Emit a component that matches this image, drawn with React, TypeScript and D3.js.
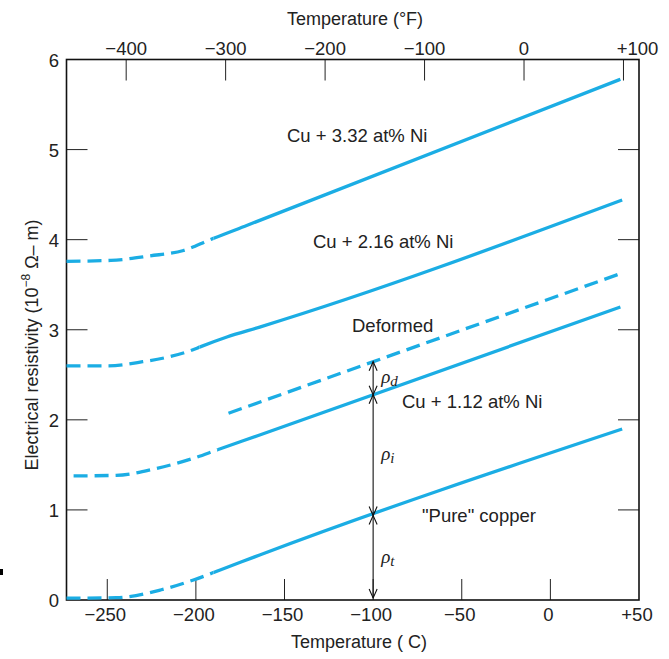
import React from "react";
import * as d3 from "d3";

// ---- data (temperature in °C, resistivity in 1e-8 Ω·m) ----
const cu332T = [-273, -248, -226, -207, -192, -171, 39.5];
const cu332R = [3.76, 3.77, 3.82, 3.88, 4.0, 4.16, 5.78];
const cu332Solid = -190;

const cu216T = [-273, -250, -230, -215, -202, -197.6, -182.5, -164, 40.5];
const cu216R = [2.6, 2.6, 2.645, 2.7, 2.775, 2.81, 2.92, 3.03, 4.44];
const cu216Solid = -198;

const deformedT = [-181.6, 40.5];
const deformedR = [2.073, 3.63];
const deformedSolid = 999; // entirely dashed

const cu112T = [-269, -245, -222, -201.4, -188.2, -164, 39.5];
const cu112R = [1.377, 1.384, 1.462, 1.573, 1.665, 1.832, 3.253];
const cu112Solid = -188;

const pureT = [-273, -245, -220, -201.4, -186.3, -164, 40.5];
const pureR = [0.02, 0.026, 0.111, 0.222, 0.333, 0.5, 1.898];
const pureSolid = -190;

const seriesNames = ["Cu + 3.32 at% Ni", "Cu + 2.16 at% Ni", "Deformed", "Cu + 1.12 at% Ni", "\"Pure\" copper"];

const bottomTicks = [-250, -200, -150, -100, -50, 0, 50];
const bottomTickLabels = ["\u2212250", "\u2212200", "\u2212150", "\u2212100", "\u221250", "0", "+50"];
const topTicks = [-400, -300, -200, -100, 0, 100];
const topTickLabels = ["\u2212400", "\u2212300", "\u2212200", "\u2212100", "0", "+100"];
const leftTicks = [0, 1, 2, 3, 4, 5, 6];

const arrowTemp = -100;

const W = 669;
const H = 659;
const L = 66.5, R = 639, T = 59.5, B = 600;
const COLOR = "#1badE4";
const FONT = "'Liberation Sans', Arial, sans-serif";

const x = d3.scaleLinear().domain([-273, 50]).range([L, R]);
const xF = d3.scaleLinear().domain([-460, 115.6]).range([L, R]);
const y = d3.scaleLinear().domain([0, 6]).range([B, T]);

type S = { name: string; t: number[]; r: number[]; solidFrom: number };
const series: S[] = [
  { name: seriesNames[0], t: cu332T, r: cu332R, solidFrom: cu332Solid },
  { name: seriesNames[1], t: cu216T, r: cu216R, solidFrom: cu216Solid },
  { name: seriesNames[2], t: deformedT, r: deformedR, solidFrom: deformedSolid },
  { name: seriesNames[3], t: cu112T, r: cu112R, solidFrom: cu112Solid },
  { name: seriesNames[4], t: pureT, r: pureR, solidFrom: pureSolid },
];

function interp(s: S, t: number) {
  for (let i = 0; i < s.t.length - 1; i++) {
    if (t >= s.t[i] && t <= s.t[i + 1]) {
      const f = (t - s.t[i]) / (s.t[i + 1] - s.t[i]);
      return s.r[i] + f * (s.r[i + 1] - s.r[i]);
    }
  }
  return 0;
}

const line = d3
  .line<[number, number]>()
  .x((d) => x(d[0]))
  .y((d) => y(d[1]))
  .curve(d3.curveMonotoneX);

export default function App() {
  const levels = [0, interp(series[4], arrowTemp), interp(series[3], arrowTemp), interp(series[2], arrowTemp)];
  const ax = x(arrowTemp);
  const segs = [0, 1, 2].map((i) => ({ a: levels[i], b: levels[i + 1] }));
  const subs = ["t", "i", "d"];
  const tick = 21;
  return (
    <svg width={W} height={H} style={{ position: "absolute", left: 0, top: 0, background: "#fff" }} fontFamily={FONT}>
      <defs>
        {series.map((s, i) => (
          <React.Fragment key={i}>
            <clipPath id={`dash${i}`}>
              <rect x={0} y={0} width={x(s.solidFrom)} height={H} />
            </clipPath>
            <clipPath id={`solid${i}`}>
              <rect x={x(s.solidFrom)} y={0} width={W} height={H} />
            </clipPath>
          </React.Fragment>
        ))}
      </defs>
      <rect x={0} y={569} width={3} height={6} fill="#000" />
      {/* ticks */}
      <g stroke="#222" strokeWidth={1}>
        {bottomTicks.filter((t) => x(t) < R - 1).map((t) => (
          <line key={"b" + t} x1={x(t)} x2={x(t)} y1={B} y2={B - tick} />
        ))}
        {topTicks.map((t) => (
          <line key={"t" + t} x1={xF(t)} x2={xF(t)} y1={T} y2={T + tick} />
        ))}
        {leftTicks.filter((v) => v > 0 && v < 6).map((v) => (
          <React.Fragment key={"l" + v}>
            <line x1={L} x2={L + tick} y1={y(v)} y2={y(v)} />
            <line x1={R} x2={R - tick} y1={y(v)} y2={y(v)} />
          </React.Fragment>
        ))}
      </g>
      <rect x={L} y={T} width={R - L} height={B - T} fill="none" stroke="#111" strokeWidth={1.6} />
      {/* tick labels */}
      <g fontSize={18.5} fill="#222">
        {bottomTicks.map((t, i) => (
          <text key={"bl" + t} x={x(t) - 2} y={621} textAnchor="middle">{bottomTickLabels[i]}</text>
        ))}
        {topTicks.map((t, i) => (
          <text key={"tl" + t} x={xF(t) + (t === 100 ? 14 : 0)} y={55} textAnchor="middle">{topTickLabels[i]}</text>
        ))}
        {leftTicks.map((v) => (
          <text key={"ll" + v} x={59} y={y(v) + 7} textAnchor="end">{v}</text>
        ))}
      </g>
      {/* axis titles */}
      <text x={355} y={25} fontSize={18} textAnchor="middle" fill="#222">Temperature (°F)</text>
      <text x={359} y={648} fontSize={18} textAnchor="middle" fill="#222">Temperature ( C)</text>
      <text transform="translate(38,345) rotate(-90)" fontSize={18} textAnchor="middle" fill="#222">
        Electrical resistivity (10
        <tspan fontSize={12} dy={-8}>{"\u22128"}</tspan>
        <tspan dy={8}>{" \u03a9\u2013 m)"}</tspan>
      </text>
      {/* curves */}
      <g fill="none" stroke={COLOR} strokeWidth={3.3}>
        {series.map((s, i) => {
          const pts = s.t.map((t, j) => [t, s.r[j]] as [number, number]);
          const d = line(pts) || "";
          return (
            <React.Fragment key={s.name}>
              <path d={d} strokeDasharray="14,7" clipPath={`url(#dash${i})`} />
              <path d={d} clipPath={`url(#solid${i})`} />
            </React.Fragment>
          );
        })}
      </g>
      {/* series labels */}
      <g fontSize={18.5} fill="#222">
        <text x={287} y={142}>{seriesNames[0]}</text>
        <text x={313} y={248}>{seriesNames[1]}</text>
        <text x={352} y={332}>{seriesNames[2]}</text>
        <text x={402} y={408}>{seriesNames[3]}</text>
        <text x={422} y={522}>{seriesNames[4]}</text>
      </g>
      {/* rho arrows */}
      <g stroke="#111" strokeWidth={1.1} fill="none">
        {segs.map((s, i) => {
          const ya = i === 0 ? y(s.a) - 2 : y(s.a);
          const yb = y(s.b);
          return (
            <React.Fragment key={"seg" + i}>
              <line x1={ax} x2={ax} y1={ya} y2={yb} />
              <path d={`M${ax - 4},${ya - 9} L${ax},${ya} L${ax + 4},${ya - 9}`} />
              <path d={`M${ax - 4},${yb + 9} L${ax},${yb} L${ax + 4},${yb + 9}`} />
            </React.Fragment>
          );
        })}
      </g>
      <g fontFamily="'Liberation Serif', 'DejaVu Serif', serif" fontStyle="italic" fontSize={19} fill="#222">
        {segs.map((s, i) => (
          <text key={"rl" + i} x={ax + 8} y={(y(s.a) + y(s.b)) / 2 + 5}>
            ρ<tspan fontSize={15} dy={3}>{subs[i]}</tspan>
          </text>
        ))}
      </g>
    </svg>
  );
}
